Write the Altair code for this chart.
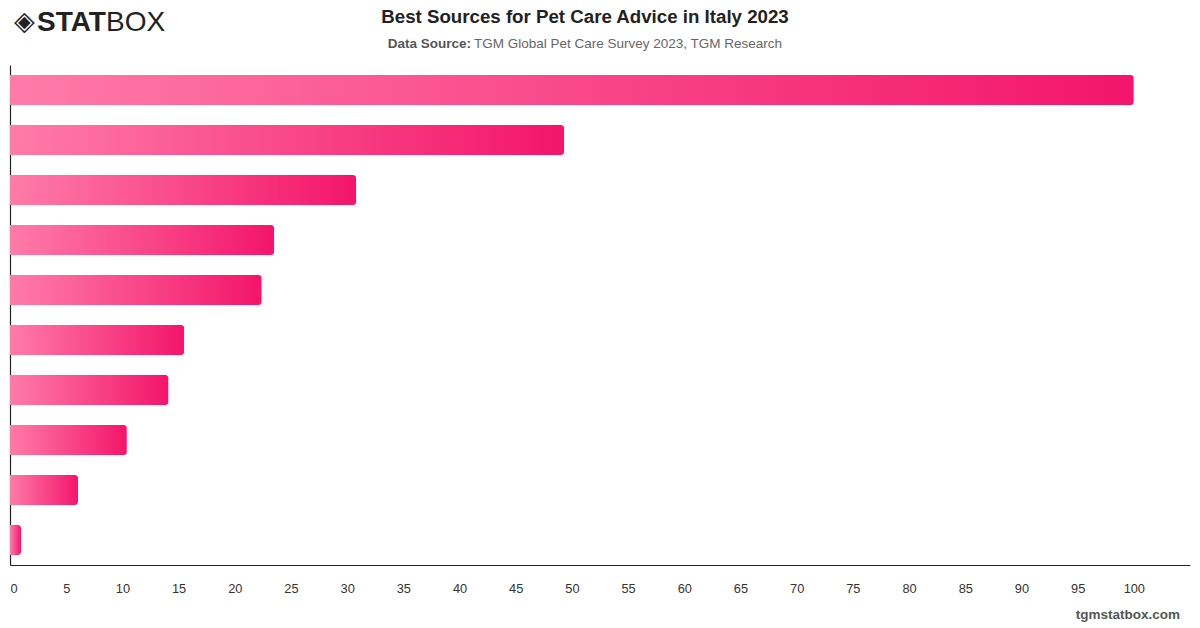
import altair as alt
import pandas as pd

# Survey shares (index, top source = 100), ordered from top bar to bottom bar
sources = [f"Source {i}" for i in range(1, 11)]
values = [100.0, 49.3, 30.8, 23.5, 22.4, 15.5, 14.1, 10.4, 6.05, 0.98]
tick_values = list(range(0, 101, 5))

title_text = "Best Sources for Pet Care Advice in Italy 2023"
subtitle_bold = "Data Source:"
subtitle_rest = "TGM Global Pet Care Survey 2023, TGM Research"
footer_text = "tgmstatbox.com"

df = pd.DataFrame({"source": sources, "value": values})
one = pd.DataFrame({"k": [0]})

W, H = 1180, 500
TOP, LEFT = 65, 10
FONT = "Liberation Sans"

pink_gradient = alt.LinearGradient(
    gradient="linear",
    stops=[
        alt.GradientStop(color="#ff7ba8", offset=0),
        alt.GradientStop(color="#f3156b", offset=1),
    ],
    x1=0, x2=1, y1=0, y2=0,
)

bars = alt.Chart(df).mark_bar(color=pink_gradient, cornerRadiusEnd=3).encode(
    x=alt.X(
        "value:Q",
        scale=alt.Scale(domain=[0, 105], nice=False, zero=True),
        axis=alt.Axis(
            values=tick_values,
            title=None,
            grid=False,
            ticks=False,
            tickSize=0,
            labelPadding=17,
            labelFontSize=12.8,
            labelColor="#333333",
            labelFont=FONT,
            domainColor="#222222",
            domainWidth=1.2,
        ),
    ),
    y=alt.Y(
        "source:N",
        sort=sources,
        scale=alt.Scale(paddingInner=0.4, paddingOuter=0.2),
        axis=alt.Axis(
            title=None,
            labels=False,
            ticks=False,
            grid=False,
            domainColor="#222222",
            domainWidth=1.2,
        ),
    ),
)


def text_at(txt, x, y, size, weight="normal", color="#222222", align="left", font=FONT):
    return alt.Chart(one).mark_text(
        text=txt, fontSize=size, fontWeight=weight, color=color,
        align=align, baseline="middle", font=font,
    ).encode(x=alt.value(x - LEFT), y=alt.value(y - TOP))


title = text_at(title_text, 585, 17, 18.7, "bold", "#222222", "center")
sub_b = text_at(subtitle_bold, 471, 44, 13.5, "bold", "#555555", "right")
sub_r = text_at(subtitle_rest, 474, 44, 13.5, "normal", "#666666", "left")
footer = text_at(footer_text, 1180, 615, 13.5, "bold", "#555555", "right")

# Logo: diamond mark followed by STAT (heavy) and BOX (light)
logo_icon = text_at("◈", 14, 22, 27, "bold", "#222222", "left", "DejaVu Sans")
logo_stat = text_at("STAT", 37, 23, 28, 900, "#222222", "left")
logo_box = text_at("BOX", 106, 23, 28, "normal", "#222222", "left")

chart = alt.layer(
    bars, title, sub_b, sub_r, footer, logo_icon, logo_stat, logo_box
).properties(
    width=W,
    height=H,
    autosize=alt.AutoSizeParams(type="none"),
    padding={"left": LEFT, "top": TOP, "right": 1200 - LEFT - W, "bottom": 628 - TOP - H},
    background="#ffffff",
).configure_view(stroke=None)

chart.save("out.html", embed_options={"renderer": "svg", "actions": False})
